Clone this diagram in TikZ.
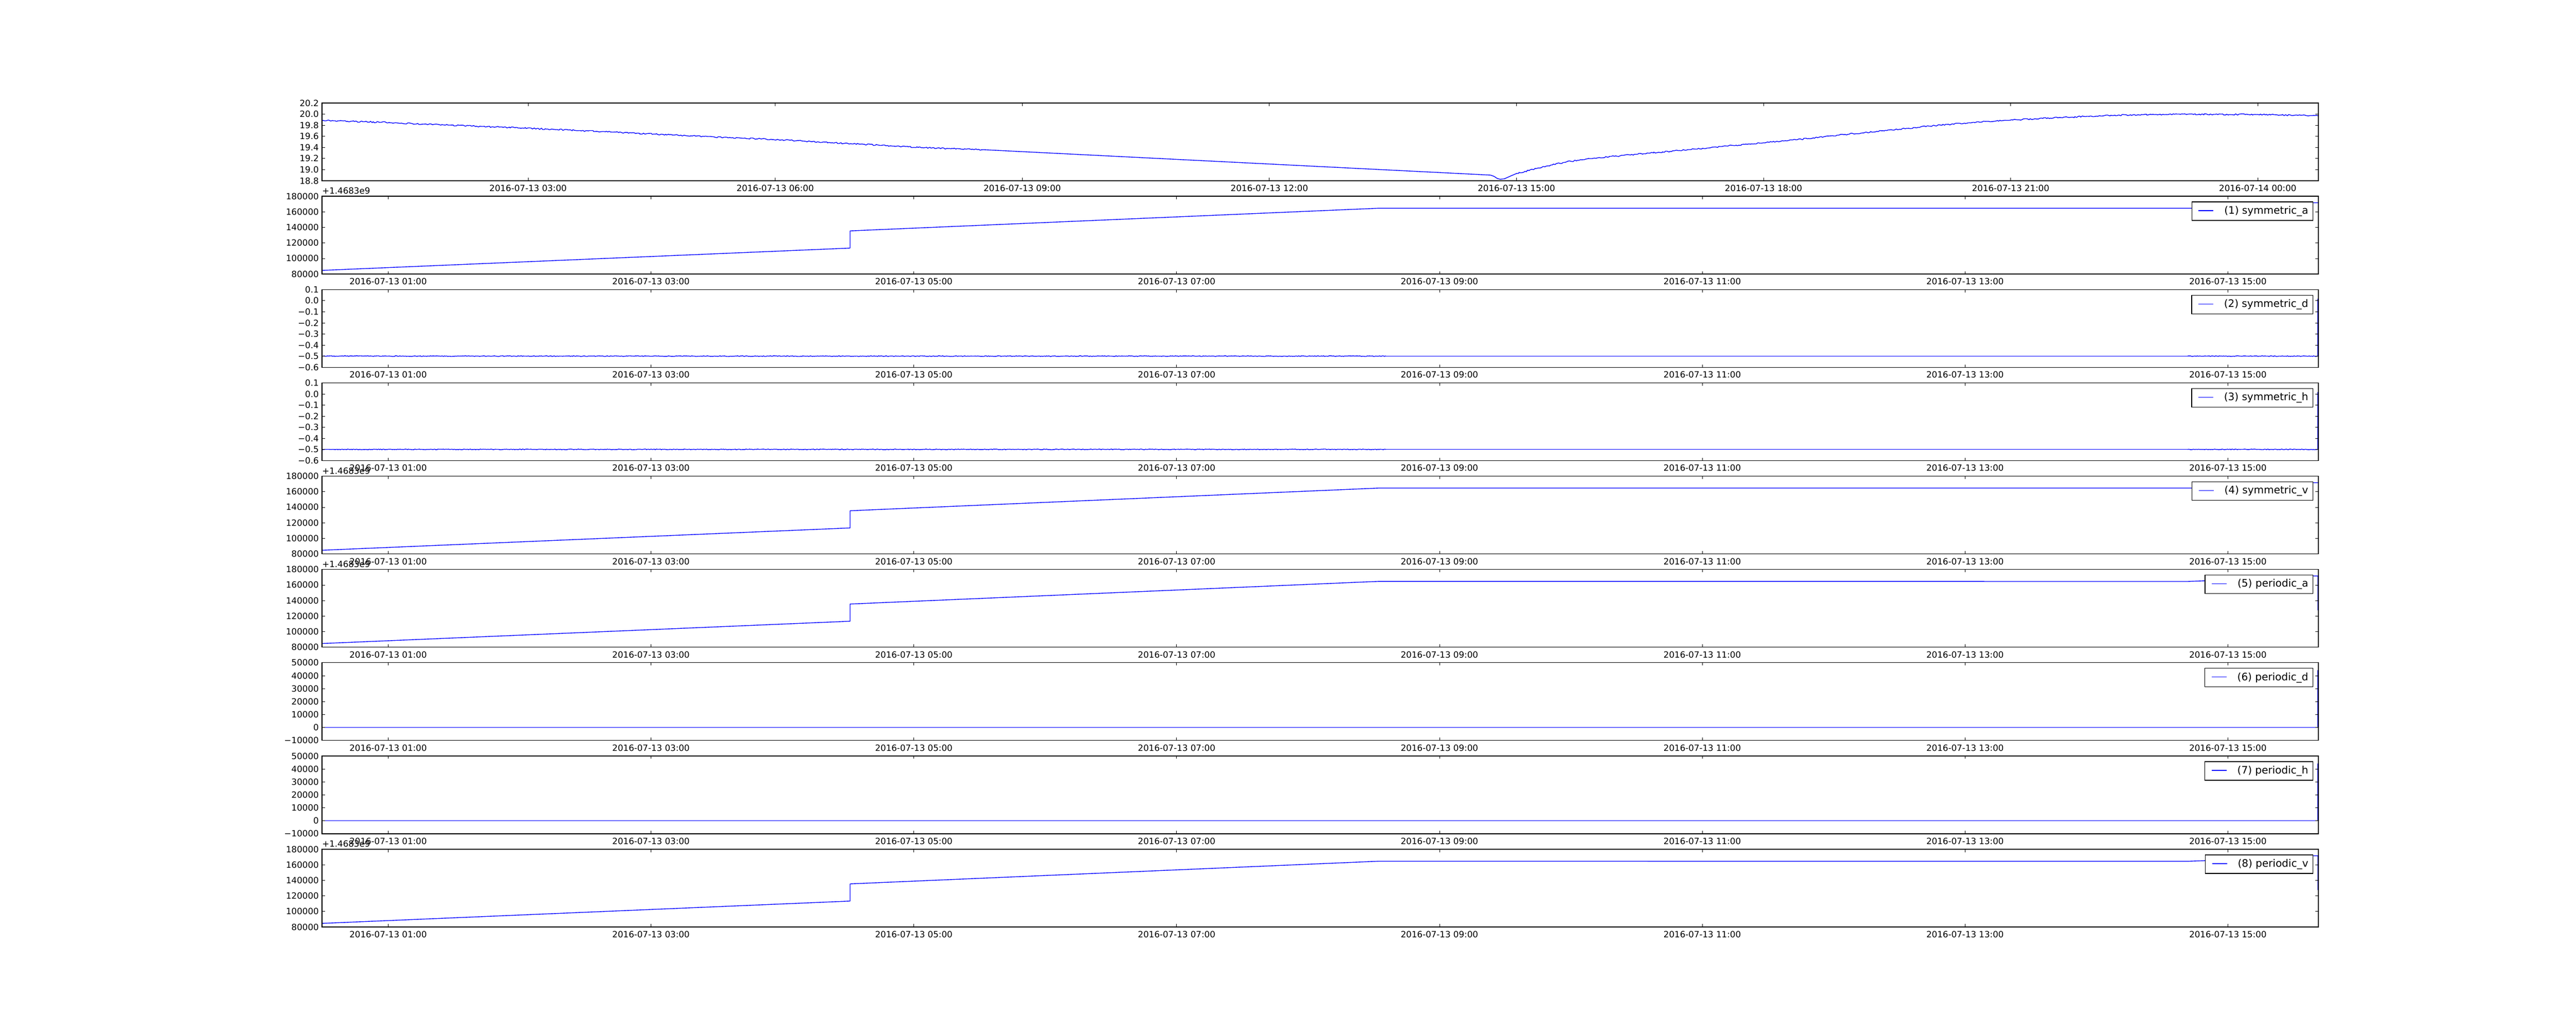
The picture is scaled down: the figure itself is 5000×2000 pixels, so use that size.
\documentclass[tikz,border=0pt]{standalone}
\usepackage{fontspec}
\setmainfont{DejaVu Sans}
\usetikzlibrary{decorations.pathmorphing}
\newcommand\legfont{\fontsize{14.4}{17}\selectfont}
\newcommand\PanelTop[1]{\pgfmathsetmacro\PTop{200+#1*181.1321}\pgfmathsetmacro\PBot{\PTop+150.9434}}
\newcommand\YTicks[3]{%
  \PanelTop{#1}%
  \pgfmathsetmacro\PDy{150.9434/#2}%
  \foreach \lab [count=\c from 0] in {#3}{%
    \pgfmathsetmacro\YY{\PTop+\c*\PDy}%
    \draw[tickmark] (625,\YY) -- (630.556,\YY) (4500,\YY) -- (4494.444,\YY);
    \node[ticklbl,anchor=east] (yl#1-\c) at (619,\YY) {\lab};
  }}
\newcommand\XTicks[4]{%
  \PanelTop{#1}%
  \foreach \lab [count=\c from 0] in {#4}{%
    \pgfmathsetmacro\XX{#2+\c*#3}%
    \draw[tickmark] (\XX,\PBot) -- (\XX,\PBot-5.556) (\XX,\PTop) -- (\XX,\PTop+5.556);
    \node[ticklbl,anchor=north] (xl#1-\c) at (\XX,\PBot+8) {\lab};
  }}
\newcommand\LegBox[2]{%
  \PanelTop{#1}%
  \node[legframe,anchor=north east] (lg#1) at (4490,\PTop+10.3)
    {\hspace*{9.36pt}\textcolor{blue}{\rule[4pt]{20.88pt}{1pt}}\hspace*{15.12pt}#2\hspace*{6.48pt}};
}
\newcommand\FlatNoisy[3]{% y, x from, x to (in pieces)
  \pgfmathsetmacro\NStep{(#3-#2)/20}%
  \draw[dataline,noisysmall] (#2,#1) foreach \k in {1,...,20} { -- ({#2+\k*\NStep},#1)};
}
\begin{document}
\begin{tikzpicture}[x=0.72pt,y=-0.72pt,
  spine/.style={black,line width=1pt},
  tickmark/.style={black,line width=0.5pt},
  ticklbl/.style={font=\fontsize{12}{14}\selectfont,inner sep=0pt,text=black},
  legframe/.style={draw=black,fill=white,line width=1pt,font=\legfont,text=black,
    inner xsep=0pt,inner ysep=0pt,minimum height=25.92pt},
  dataline/.style={blue,line width=1pt,line join=round,line cap=round},
  noisy/.style={decorate,decoration={random steps,segment length=2pt,amplitude=0.9pt}},
  noisysmall/.style={decorate,decoration={random steps,segment length=1.5pt,amplitude=0.45pt}}]
\useasboundingbox (0,0) rectangle (5000,2000);
\fill[white] (0,0) rectangle (5000,2000);
\pgfmathsetseed{7}

% ---------- data lines ----------
% panel 0 (temperature)
\draw[dataline,noisy] (625,234) -- (680,235.8) -- (741,237.3) -- (800,240) -- (870,243) -- (935,245.5) -- (1000,248) -- (1060,250.6) -- (1125,253.5) -- (1190,256.5) -- (1250,259.5) -- (1300,261.8) -- (1350,264.2) -- (1400,266.5) -- (1443,268.5) -- (1500,270.7) -- (1560,274) -- (1615,277) -- (1670,280) -- (1730,283.3) -- (1790,286.3) -- (1850,288.8) -- (1909,290.7);
\draw[dataline] (1909,290.7) -- (2893,340) -- (2900,342.5) -- (2906,346.5) -- (2912,348.2) -- (2920,347.2) -- (2932,341.8) -- (2944,336.7);
\draw[dataline,noisy] (2944,336.7) -- (2983,327) -- (3010,320.5) -- (3040,314.5) -- (3070,310.3) -- (3100,306.7) -- (3150,301.8) -- (3200,297.3) -- (3260,292.3) -- (3320,286.8) -- (3370,282) -- (3423,277.3) -- (3480,271.7) -- (3540,265.5) -- (3590,260.3) -- (3643,255) -- (3700,249.3) -- (3760,243.5) -- (3820,238.6) -- (3860,235.8) -- (3902,233.3) -- (3950,230.5) -- (4000,228.2) -- (4050,226) -- (4096,224) -- (4140,223) -- (4190,222.4) -- (4232,222) -- (4300,222) -- (4377,222.3) -- (4420,223) -- (4460,224) -- (4499,224.7);

% panel 1 symmetric_a
\begin{scope}[shift={(0,381.1321)}]
\draw[dataline] (625,143.9) -- (1650,100.6) -- (1650,67.2) -- (2676,23.2) -- (4470,23.2) -- (4480,12.6) -- (4500,12.6);
\end{scope}
% panel 2 symmetric_d
\begin{scope}[shift={(0,562.2642)}]
\FlatNoisy{129.2}{625}{2690}
\draw[dataline] (2690,129.2) -- (4246,129.2);
\FlatNoisy{129.2}{4246}{4499}
\draw[dataline] (4499,129.2) -- (4499,18.4);
\end{scope}
% panel 3 symmetric_h
\begin{scope}[shift={(0,743.3962)}]
\FlatNoisy{129.2}{625}{2690}
\draw[dataline] (2690,129.2) -- (4246,129.2);
\FlatNoisy{129.2}{4246}{4499}
\draw[dataline] (4499,129.2) -- (4499,18.4);
\end{scope}
% panel 4 symmetric_v
\begin{scope}[shift={(0,924.5283)}]
\draw[dataline] (625,143.9) -- (1650,100.6) -- (1650,67.2) -- (2676,23.2) -- (4470,23.2) -- (4480,12.7) -- (4500,12.7);
\end{scope}
% panel 5 periodic_a
\begin{scope}[shift={(0,1105.6604)}]
\draw[dataline] (625,143.9) -- (1650,100.6) -- (1650,67.2) -- (2676,23.2) -- (4247,23.3) -- (4282,22) -- (4470,21.5) -- (4480,12.7) -- (4499,12.7) -- (4499,79);
\end{scope}
% panel 6 periodic_d
\begin{scope}[shift={(0,1286.7925)}]
\draw[dataline] (625,125.8) -- (4499,125.8) -- (4499,15);
\end{scope}
% panel 7 periodic_h
\begin{scope}[shift={(0,1467.9245)}]
\draw[dataline] (625,125.8) -- (4499,125.8) -- (4499,15);
\end{scope}
% panel 8 periodic_v
\begin{scope}[shift={(0,1649.0566)}]
\draw[dataline] (625,143.9) -- (1650,100.6) -- (1650,67.2) -- (2676,23.2) -- (4247,23.3) -- (4282,22) -- (4470,21.5) -- (4480,12.7) -- (4499,12.7) -- (4499,79);
\end{scope}

% ---------- axes frames ----------
\foreach \i in {0,...,8}{\PanelTop{\i}\draw[spine] (625,\PTop) rectangle (4500,\PBot);}

% ---------- y ticks ----------
\YTicks{0}{7}{20.2,20.0,19.8,19.6,19.4,19.2,19.0,18.8}
\YTicks{1}{5}{180000,160000,140000,120000,100000,80000}
\YTicks{2}{7}{0.1,0.0,−0.1,−0.2,−0.3,−0.4,−0.5,−0.6}
\YTicks{3}{7}{0.1,0.0,−0.1,−0.2,−0.3,−0.4,−0.5,−0.6}
\YTicks{4}{5}{180000,160000,140000,120000,100000,80000}
\YTicks{5}{5}{180000,160000,140000,120000,100000,80000}
\YTicks{6}{6}{50000,40000,30000,20000,10000,0,−10000}
\YTicks{7}{6}{50000,40000,30000,20000,10000,0,−10000}
\YTicks{8}{5}{180000,160000,140000,120000,100000,80000}

% ---------- x ticks ----------
\XTicks{0}{1025}{479.6}{2016-07-13 03:00,2016-07-13 06:00,2016-07-13 09:00,2016-07-13 12:00,2016-07-13 15:00,2016-07-13 18:00,2016-07-13 21:00,2016-07-14 00:00}
\foreach \i in {1,...,8}{\XTicks{\i}{753.4}{510.13}{2016-07-13 01:00,2016-07-13 03:00,2016-07-13 05:00,2016-07-13 07:00,2016-07-13 09:00,2016-07-13 11:00,2016-07-13 13:00,2016-07-13 15:00}}

% ---------- offset texts ----------
\foreach \i in {1,4,5,8}{\PanelTop{\i}\node[ticklbl,anchor=base west] (off\i) at (625,\PTop-4.4) {+1.4683e9};}

% ---------- legends ----------
\LegBox{1}{(1) symmetric\_a}
\LegBox{2}{(2) symmetric\_d}
\LegBox{3}{(3) symmetric\_h}
\LegBox{4}{(4) symmetric\_v}
\LegBox{5}{(5) periodic\_a}
\LegBox{6}{(6) periodic\_d}
\LegBox{7}{(7) periodic\_h}
\LegBox{8}{(8) periodic\_v}
\end{tikzpicture}
\end{document}
